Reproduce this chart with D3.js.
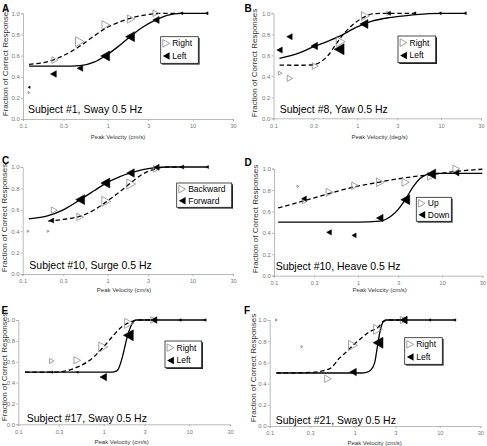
<!DOCTYPE html>
<html><head><meta charset="utf-8">
<script src="https://cdn.jsdelivr.net/npm/d3@7"></script>
<style>body{margin:0;background:#fff}svg{display:block;font-family:"Liberation Sans",Arial,Helvetica,sans-serif}</style>
</head><body><svg id="c" width="487" height="446"></svg>
<script>
// ---------- DATA ----------
const xTicks = [0.1, 0.3, 1, 3, 10, 30];
const yTicks = [0, 0.2, 0.4, 0.6, 0.8, 1.0];
const letters = ["A", "B", "C", "D", "E", "F"];
const subjects = ["Subject #1, Sway 0.5 Hz", "Subject #8, Yaw 0.5 Hz", "Subject #10, Surge 0.5 Hz",
                  "Subject #10, Heave 0.5 Hz", "Subject #17, Sway 0.5 Hz", "Subject #21, Sway 0.5 Hz"];
const xTitles = ["Peak Velocity (cm/s)", "Peak Velocity (deg/s)", "Peak Velocity (cm/s)",
                 "Peak Velocity (cm/s)", "Peak Velocity (cm/s)", "Peak Velocity (cm/s)"];
const yTitle = "Fraction of Correct Responses";
const openNames = ["Right", "Right", "Backward", "Up", "Right", "Right"];
const filledNames = ["Left", "Left", "Forward", "Down", "Left", "Left"];

// markers: [peak velocity, fraction correct, relative number of trials]
// curves: [peak velocity, fitted fraction correct]
const aOpen   = [[0.118,0.25,0.5],[0.238,0.558,4],[0.47,0.731,9],[0.95,0.889,7],[1.88,0.946,6],[3.7,1.0,4]];
const aFilled = [[0.118,0.3,0.5],[0.228,0.426,4],[0.47,0.48,3.5],[0.93,0.596,9],[1.83,0.779,9],[3.7,0.937,4.5],[7.4,1.0,0.8],[14.7,1.0,0.8]];
const aDash   = [[0.118,0.517],[0.2,0.545],[0.3,0.6],[0.47,0.69],[0.7,0.79],[0.95,0.86],[1.4,0.92],[1.88,0.955],[2.6,0.98],[3.7,0.997],[5,1.0],[7.4,1.0]];
const aSolid  = [[0.118,0.5],[0.3,0.5],[0.47,0.505],[0.7,0.54],[0.93,0.596],[1.3,0.68],[1.83,0.779],[2.6,0.87],[3.7,0.937],[5,0.98],[7.4,1.0],[14.7,1.0]];

const bOpen   = [[0.12,0.43,1.5],[0.157,0.38,3.3],[0.315,0.498,4],[0.634,0.73,9],[1.25,0.974,7.3],[2.37,1.0,1.5]];
const bFilled = [[0.118,0.65,3.3],[0.155,0.777,3.3],[0.306,0.689,4.9],[0.607,0.657,11],[1.2,0.898,7.3],[2.37,1.0,1.5],[4.83,1.0,0.8],[9.7,1.0,0.8],[19.3,1.0,0.8]];
const bDash   = [[0.118,0.507],[0.2,0.505],[0.3,0.51],[0.36,0.535],[0.45,0.6],[0.55,0.7],[0.7,0.81],[0.85,0.88],[1.05,0.936],[1.25,0.97],[1.5,0.995],[2,1.0],[5,1.0]];
const bSolid  = [[0.118,0.571],[0.2,0.62],[0.3,0.682],[0.45,0.735],[0.6,0.777],[1,0.87],[1.5,0.925],[2.4,0.958],[3,0.968],[5,0.988],[10,1.0],[19.3,1.0]];

const cOpen   = [[0.116,0.4,0.4],[0.2,0.4,0.4],[0.236,0.595,4],[0.475,0.533,4.9],[0.966,0.679,9],[1.9,0.841,9],[3.76,0.984,4]];
const cFilled = [[0.218,0.5,2.3],[0.475,0.695,9],[0.94,0.85,9],[1.86,0.944,6.3],[3.76,0.997,3.3],[7.5,1.0,1.5],[14.9,1.0,0.8]];
const cDash   = [[0.2,0.495],[0.3,0.51],[0.475,0.54],[0.7,0.6],[0.966,0.675],[1.4,0.77],[1.9,0.855],[2.6,0.935],[3.76,0.985],[5.2,1.0],[7.5,1.0]];
const cSolid  = [[0.118,0.515],[0.2,0.545],[0.3,0.6],[0.475,0.695],[0.7,0.78],[0.94,0.845],[1.4,0.91],[1.86,0.944],[2.6,0.975],[3.76,0.995],[5,1.0],[7.5,1.0],[14.9,1.0]];

const dOpen   = [[0.193,0.835,0.5],[0.232,0.695,2.3],[0.46,0.779,5.8],[0.92,0.841,4.9],[1.84,0.873,6.8],[3.68,0.873,5.8],[7.4,0.929,5.8],[14.7,1.0,4.9]];
const dFilled = [[0.227,0.72,2.6],[0.451,0.405,2.6],[0.894,0.377,2],[1.81,0.539,4.9],[3.64,0.71,9],[7.4,0.95,9],[14.7,0.96,3.3]];
const dDash   = [[0.112,0.633],[0.227,0.7],[0.46,0.77],[0.9,0.83],[1.8,0.875],[3.6,0.915],[7.4,0.945],[14.7,0.975],[30,0.995]];
const dSolid  = [[0.112,0.5],[1.0,0.5],[1.81,0.51],[2.5,0.56],[3,0.62],[3.64,0.71],[4.5,0.83],[5.5,0.91],[6.5,0.945],[8,0.957],[14.7,0.957],[30,0.957]];

const eOpen   = [[0.246,0.607,2.3],[0.49,0.613,4.9],[0.986,0.741,9],[1.98,0.968,9],[3.86,1.0,4]];
const eFilled = [[0.246,0.5,0.4],[0.49,0.5,0.4],[0.986,0.453,4.9],[1.94,0.853,11],[3.86,1.0,4],[7.8,1.0,0.6],[15.3,1.0,0.6]];
const eDash   = [[0.12,0.5],[0.25,0.5],[0.35,0.51],[0.49,0.548],[0.75,0.64],[1.0,0.745],[1.29,0.85],[1.6,0.93],[1.98,0.975],[2.3,0.995],[2.6,1.0],[3.86,1.0]];
const eSolid  = [[0.12,0.5],[1.2,0.5],[1.35,0.505],[1.48,0.53],[1.62,0.62],[1.75,0.73],[1.85,0.815],[1.95,0.88],[2.1,0.95],[2.25,0.99],[2.4,1.0],[15.3,1.0]];

const fOpen   = [[0.12,1.0,0.4],[0.24,0.748,0.4],[0.485,0.446,4.9],[0.955,0.761,9],[1.88,0.912,9],[3.76,1.0,4.9]];
const fFilled = [[0.955,0.509,4.9],[1.88,0.786,11],[3.76,1.0,5.7],[7.6,1.0,0.6],[15,1.0,0.6]];
const fDash   = [[0.12,0.5],[0.3,0.505],[0.42,0.52],[0.53,0.55],[0.66,0.64],[0.8,0.7],[0.955,0.761],[1.2,0.83],[1.5,0.89],[1.88,0.93],[2.15,0.985],[2.5,1.0],[3.76,1.0]];
const fSolid  = [[0.12,0.5],[1.2,0.5],[1.37,0.505],[1.55,0.53],[1.72,0.6],[1.8,0.69],[1.88,0.786],[1.97,0.88],[2.07,0.95],[2.2,0.99],[2.35,1.0],[15,1.0]];

const opens   = [aOpen, bOpen, cOpen, dOpen, eOpen, fOpen];
const filleds = [aFilled, bFilled, cFilled, dFilled, eFilled, fFilled];
const dashes  = [aDash, bDash, cDash, dDash, eDash, fDash];
const solids  = [aSolid, bSolid, cSolid, dSolid, eSolid, fSolid];

// ---------- LAYOUT ----------
const layout = [
 {x0:23,    x1:233,   yT:13.3,  yB:119,   letter:[2,11.7],     yTitle:[7.5,62],   xTitle:[118,138.5],  subj:[28,113],     legend:[160.7,36.7,37.6,26.6]},
 {x0:273.5, x1:481,   yT:13.3,  yB:118.3, letter:[244.5,11.7], yTitle:[257,63],   xTitle:[379.7,138.5],subj:[279.7,113],  legend:[398,36,37.7,26.7]},
 {x0:22.7,  x1:233,   yT:167,   yB:274,   letter:[2,163.7],    yTitle:[7,218],    xTitle:[124,292],    subj:[29.3,269],   legend:[176.7,183,55,24.3]},
 {x0:274,   x1:482.3, yT:168.7, yB:275.7, letter:[244.5,166.3],yTitle:[257.5,219],xTitle:[379.7,292],  subj:[275.7,269.5],legend:[416.3,197.3,35,24]},
 {x0:18.3,  x1:230,   yT:320,   yB:424.3, letter:[1.5,314.3],  yTitle:[7,367],    xTitle:[121.7,443.5],subj:[26.7,422],   legend:[165,341,36.7,26.7]},
 {x0:269.7, x1:480.3, yT:320,   yB:426,   letter:[244,314.3],  yTitle:[255.5,368],xTitle:[374.7,444.5],subj:[275.7,424],  legend:[404.7,337.7,37.6,26.6]},
];

const svg = d3.select("#c");
const size = d3.scaleSqrt().domain([0, 10]).range([0, 10.5]);
const triRight = (h) => { const w = h * 0.9; return `M${-w/2},${-h/2}L${w/2},0L${-w/2},${h/2}Z`; };
const triLeft  = (h) => { const w = h * 0.9; return `M${w/2},${-h/2}L${-w/2},0L${w/2},${h/2}Z`; };

layout.forEach((L, i) => {
  const g = svg.append("g");
  const x = d3.scaleLog().domain([0.1, 30]).range([L.x0, L.x1]);
  const y = d3.scaleLinear().domain([0, 1]).range([L.yB, L.yT]);

  // axes
  const xa = g.append("g").attr("transform", `translate(0,${L.yB})`)
    .call(d3.axisBottom(x).tickValues(xTicks).tickFormat(d => String(d)).tickSize(2).tickPadding(3.5));
  const ya = g.append("g").attr("transform", `translate(${L.x0},0)`)
    .call(d3.axisLeft(y).tickValues(yTicks).tickFormat(d3.format(".1f")).tickSize(2).tickPadding(1.2));
  [xa, ya].forEach(a => {
    a.select(".domain").attr("stroke", "#a8a8a8").attr("stroke-width", 0.8);
    a.selectAll(".tick line").attr("stroke", "#a8a8a8").attr("stroke-width", 0.8);
    a.selectAll("text").attr("fill", "#777").attr("font-family", "Liberation Sans, Arial, sans-serif");
  });
  xa.selectAll("text").attr("font-size", 5.6);
  ya.selectAll("text").attr("font-size", 6);

  // curves
  const line = d3.line().x(d => x(d[0])).y(d => y(d[1])).curve(d3.curveMonotoneX);
  g.append("path").attr("d", line(dashes[i])).attr("fill", "none").attr("stroke", "#000")
    .attr("stroke-width", 1.3).attr("stroke-dasharray", "4.5,2.8");
  g.append("path").attr("d", line(solids[i])).attr("fill", "none").attr("stroke", "#000")
    .attr("stroke-width", 1.3);

  // markers
  g.selectAll(".op").data(opens[i]).join("path")
    .attr("transform", d => `translate(${x(d[0])},${y(d[1])})`)
    .attr("d", d => triRight(Math.max(2.2, size(d[2]))))
    .attr("fill", "none").attr("stroke", "#8c8c8c").attr("stroke-width", 0.8);
  g.selectAll(".fi").data(filleds[i]).join("path")
    .attr("transform", d => `translate(${x(d[0])},${y(d[1])})`)
    .attr("d", d => triLeft(Math.max(2.2, size(d[2]))))
    .attr("fill", "#000").attr("stroke", "#000").attr("stroke-width", 0.5);

  // texts
  g.append("text").attr("x", L.letter[0]).attr("y", L.letter[1]).text(letters[i])
    .attr("font-size", 10).attr("font-weight", "bold");
  g.append("text").attr("transform", `translate(${L.yTitle[0]},${L.yTitle[1]}) rotate(-90)`)
    .attr("text-anchor", "middle").attr("font-size", 8).attr("fill", "#333").text(yTitle);
  g.append("text").attr("x", L.xTitle[0]).attr("y", L.xTitle[1]).attr("text-anchor", "middle")
    .attr("font-size", 6).attr("fill", "#333").text(xTitles[i]);
  g.append("text").attr("x", L.subj[0]).attr("y", L.subj[1]).attr("font-size", 10.5)
    .attr("fill", "#000").text(subjects[i]);

  // legend
  const [lx, ly, lw, lh] = L.legend;
  g.append("rect").attr("x", lx + 1.3).attr("y", ly + 1.3).attr("width", lw).attr("height", lh).attr("fill", "#222");
  g.append("rect").attr("x", lx).attr("y", ly).attr("width", lw).attr("height", lh)
    .attr("fill", "#fff").attr("stroke", "#222").attr("stroke-width", 0.8);
  const r1 = ly + lh * 0.25, r2 = ly + lh * 0.73;
  g.append("path").attr("transform", `translate(${lx + 5.5},${r1})`).attr("d", triRight(7.5))
    .attr("fill", "none").attr("stroke", "#8c8c8c").attr("stroke-width", 0.8);
  g.append("path").attr("transform", `translate(${lx + 5.5},${r2})`).attr("d", triLeft(7.5)).attr("fill", "#000");
  g.append("text").attr("x", lx + 11.5).attr("y", r1 + 3).attr("font-size", 8.5).text(openNames[i]);
  g.append("text").attr("x", lx + 11.5).attr("y", r2 + 3).attr("font-size", 8.5).text(filledNames[i]);
});
</script>
</body></html>
